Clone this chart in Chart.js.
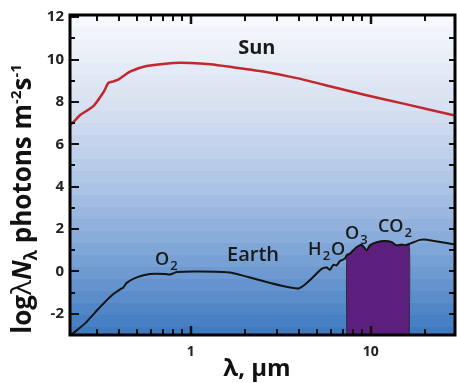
<!DOCTYPE html>
<html>
<head>
<meta charset="utf-8">
<script src="https://cdn.jsdelivr.net/npm/chart.js@4/dist/chart.umd.min.js"></script>
<style>
  body { margin: 0; background: #fff; }
  #wrap { width: 457px; height: 383px; }
</style>
</head>
<body>
<div id="wrap"><canvas id="spectrum" width="457" height="383"></canvas></div>
<script>
// wavelength (um) and log photon flux
const sunWl  = [0.2135, 0.223, 0.245, 0.288, 0.33, 0.348, 0.372, 0.396, 0.46, 0.57, 0.8, 1.0, 1.28, 1.65, 2.53, 3.88, 6.0, 9.1, 15, 29.4];
const sunVal = [6.9, 7.05, 7.4, 7.8, 8.5, 8.89, 8.97, 9.05, 9.43, 9.69, 9.84, 9.84, 9.78, 9.66, 9.43, 9.12, 8.73, 8.35, 7.93, 7.36];

const earthWl  = [0.2135, 0.223, 0.259, 0.313, 0.372, 0.414, 0.422, 0.441, 0.501, 0.594, 0.72, 0.767, 0.836, 1.08, 1.65, 3.96,
                  5.34, 5.7, 5.94, 6.2, 6.46, 6.75, 7.2, 7.36, 7.67, 7.9, 8.36, 8.91, 9.5, 9.9, 10.8, 12.0, 13.1, 13.9, 14.9, 15.5, 16.4, 18.8, 20.5, 29.4];
const earthVal = [-3.05, -2.91, -2.45, -1.69, -1.07, -0.8, -0.77, -0.54, -0.28, -0.12, -0.12, -0.15, -0.03, 0, -0.05, -0.8,
                  0.12, 0.18, 0.08, 0.31, 0.28, 0.49, 0.61, 0.77, 0.84, 0.95, 1.15, 1.26, 1.0, 1.23, 1.38, 1.43, 1.38, 1.23, 1.27, 1.23, 1.3, 1.49, 1.5, 1.27];

// atmospheric window shaded in purple
const windowRange = [7.36, 16.4];

const xTickVals = [1, 10];
const xMinorTicks = [0.3, 0.4, 0.5, 0.6, 0.7, 0.8, 0.9, 2, 3, 4, 5, 6, 7, 8, 9, 20];
const yTickVals = [-2, 0, 2, 4, 6, 8, 10, 12];
const yMinorTicks = [-1, 1, 3, 5, 7, 9, 11];

// labels placed in data coordinates [text, subscript, wavelength, value, trailing text]
const labels = [
  ["O", "2", 0.634, 0.32],
  ["H", "2", 4.49, 0.78, "O"],
  ["O", "3", 7.2, 1.52],
  ["CO", "2", 10.97, 1.84]
];

const FONT = "'Open Sans', 'DejaVu Sans', sans-serif";

const sunPts = sunWl.map((w, i) => ({ x: w, y: sunVal[i] }));
const earthPts = earthWl.map((w, i) => ({ x: w, y: earthVal[i] }));
const windowPts = [{ x: windowRange[0], y: -3 }]
  .concat(earthPts.filter(p => p.x >= windowRange[0] && p.x <= windowRange[1]))
  .concat([{ x: windowRange[1], y: -3 }]);

function bandColor(t) {
  // top -> bottom colour stops
  const stops = [[0, [248, 250, 253]], [0.3, [213, 223, 240]], [0.55, [170, 194, 228]], [0.8, [112, 155, 210]], [1, [60, 120, 192]]];
  for (let i = 1; i < stops.length; i++) {
    if (t <= stops[i][0]) {
      const a = stops[i - 1], b = stops[i];
      const f = (t - a[0]) / (b[0] - a[0]);
      const c = a[1].map((v, k) => Math.round(v + (b[1][k] - v) * f));
      return `rgb(${c[0]},${c[1]},${c[2]})`;
    }
  }
  return "rgb(60,120,192)";
}

const decor = {
  id: "decor",
  beforeDraw(chart) {
    const { ctx, chartArea: a } = chart;
    const band = 12;
    for (let y = a.top; y < a.bottom; y += band) {
      const h = Math.min(band, a.bottom - y);
      ctx.fillStyle = bandColor((y + h / 2 - a.top) / (a.bottom - a.top));
      ctx.fillRect(a.left, y, a.right - a.left, h + 0.5);
    }
  },
  afterDraw(chart) {
    const { ctx, chartArea: a, scales } = chart;
    const xs = scales.x, ys = scales.y;
    ctx.save();
    ctx.strokeStyle = "#111";
    // ticks on the x axes (top and bottom, inward)
    const xt = (v, len, w) => {
      const px = Math.round(xs.getPixelForValue(v));
      ctx.lineWidth = w;
      ctx.beginPath();
      ctx.moveTo(px, a.bottom); ctx.lineTo(px, a.bottom - len);
      ctx.moveTo(px, a.top); ctx.lineTo(px, a.top + len);
      ctx.stroke();
    };
    xMinorTicks.forEach(v => xt(v, 6, 2));
    xTickVals.forEach(v => xt(v, 9, 2.5));
    // left ticks
    const yl = (v, len) => {
      const py = Math.round(ys.getPixelForValue(v));
      ctx.lineWidth = 2;
      ctx.beginPath();
      ctx.moveTo(a.left, py); ctx.lineTo(a.left + len, py);
      ctx.stroke();
    };
    yTickVals.forEach(v => yl(v, 9));
    yMinorTicks.forEach(v => yl(v, 5));
    // right ticks every unit
    yTickVals.concat(yMinorTicks).forEach(v => {
      if (v >= 12) return;
      const py = Math.round(ys.getPixelForValue(v));
      ctx.lineWidth = 2;
      ctx.beginPath();
      ctx.moveTo(a.right, py); ctx.lineTo(a.right - 6, py);
      ctx.stroke();
    });
    // frame
    ctx.lineWidth = 3;
    ctx.strokeStyle = "#000";
    ctx.strokeRect(a.left, a.top, a.right - a.left, a.bottom - a.top);

    // annotations
    ctx.fillStyle = "#1a1a1a";
    ctx.textBaseline = "middle";
    ctx.textAlign = "center";
    ctx.font = `bold 20px ${FONT}`;
    ctx.fillText("Sun", xs.getPixelForValue(2.33), ys.getPixelForValue(10.55));
    ctx.font = `600 20px ${FONT}`;
    ctx.fillText("Earth", xs.getPixelForValue(2.22), ys.getPixelForValue(0.75));

    ctx.textAlign = "left";
    ctx.textBaseline = "alphabetic";
    labels.forEach(l => {
      let x = xs.getPixelForValue(l[2]);
      const y = ys.getPixelForValue(l[3]);
      ctx.font = `600 18px ${FONT}`;
      ctx.fillText(l[0], x, y);
      x += ctx.measureText(l[0]).width + 1;
      ctx.font = `600 13px ${FONT}`;
      ctx.fillText(l[1], x, y + 5);
      x += ctx.measureText(l[1]).width + 1;
      if (l[4]) {
        ctx.font = `600 18px ${FONT}`;
        ctx.fillText(l[4], x, y);
      }
    });

    // x axis title
    ctx.font = `bold 24px ${FONT}`;
    ctx.textAlign = "center";
    ctx.fillStyle = "#111";
    ctx.fillText("λ, μm", 257, 376);

    // y axis title, rotated, built from pieces
    const parts = [
      ["log", 26, 0, "bold"],
      ["λ", 28, 0, "normal"],
      ["N", 26, 0, "italic bold"],
      ["λ", 17, 6, "bold"],
      [" photons m", 26, 0, "bold"],
      ["-2", 15, -10, "bold"],
      ["s", 26, 0, "bold"],
      ["-1", 15, -10, "bold"]
    ];
    let total = 0;
    parts.forEach(p => { ctx.font = `${p[3]} ${p[1]}px ${FONT}`; total += ctx.measureText(p[0]).width; });
    ctx.translate(31, 199);
    ctx.rotate(-Math.PI / 2);
    ctx.textAlign = "left";
    let cx = -total / 2;
    parts.forEach(p => {
      ctx.font = `${p[3]} ${p[1]}px ${FONT}`;
      ctx.fillText(p[0], cx, p[2]);
      cx += ctx.measureText(p[0]).width;
    });
    ctx.restore();
  }
};

new Chart(document.getElementById("spectrum"), {
  type: "line",
  data: {
    datasets: [
      { data: sunPts, borderColor: "#c1272d", borderWidth: 2.5, pointRadius: 0, tension: 0.2, fill: false, order: 1 },
      { data: earthPts, borderColor: "#141414", borderWidth: 2, pointRadius: 0, tension: 0.2, fill: false, order: 1 },
      { data: windowPts, borderColor: "#2a2a3a", borderWidth: 1, pointRadius: 0, tension: 0.2,
        fill: "start", backgroundColor: "#5c1f7e", order: 3 }
    ]
  },
  options: {
    responsive: false,
    animation: false,
    layout: { autoPadding: false, padding: { left: 0, right: 2, top: 7, bottom: 0 } },
    plugins: { legend: { display: false }, tooltip: { enabled: false } },
    scales: {
      x: {
        type: "logarithmic",
        min: 0.2135,
        max: 29.4,
        grid: { display: false, drawTicks: false },
        border: { display: false },
        afterBuildTicks: s => { s.ticks = xTickVals.map(v => ({ value: v })); },
        afterFit: s => { s.height = 48; },
        ticks: {
          padding: 9,
          color: "#222",
          font: { family: FONT, size: 14, weight: "bold" },
          callback: v => String(v),
          maxRotation: 0
        }
      },
      y: {
        min: -3,
        max: 12.1,
        grid: { display: false, drawTicks: false },
        border: { display: false },
        afterBuildTicks: s => { s.ticks = yTickVals.map(v => ({ value: v })); },
        afterFit: s => { s.width = 70; },
        ticks: {
          padding: 6,
          color: "#222",
          font: { family: FONT, size: 15, weight: "bold" },
          callback: v => String(v)
        }
      }
    }
  },
  plugins: [decor]
});
</script>
</body>
</html>
